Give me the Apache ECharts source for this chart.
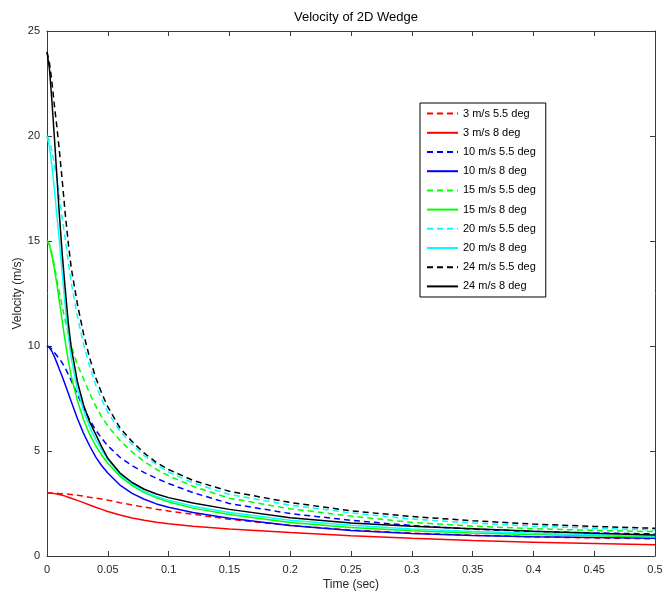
<!DOCTYPE html>
<html><head><meta charset="utf-8">
<script src="https://cdn.jsdelivr.net/npm/echarts@6/dist/echarts.min.js"></script>
<style>html,body{margin:0;padding:0;background:#fff}#c{width:664px;height:597px}</style>
</head><body><div id="c"></div>
<script>
// Shared time samples (sec)
const time = [0, 0.002, 0.004, 0.006, 0.008, 0.01, 0.0125, 0.015, 0.0175, 0.02, 0.025, 0.03, 0.035, 0.04, 0.045, 0.05, 0.06, 0.07, 0.08, 0.09, 0.1, 0.12, 0.15, 0.2, 0.25, 0.3, 0.35, 0.4, 0.45, 0.5];

// Velocity (m/s) per case
const v3_55  = [3.0, 3.0, 3.0, 2.995, 2.99, 2.98, 2.97, 2.96, 2.945, 2.93, 2.89, 2.85, 2.8, 2.76, 2.71, 2.66, 2.54, 2.43, 2.33, 2.23, 2.14, 1.99, 1.75, 1.45, 1.24, 1.09, 0.99, 0.91, 0.86, 0.82];
const v3_8   = [3.0, 2.995, 2.985, 2.97, 2.95, 2.93, 2.89, 2.85, 2.8, 2.75, 2.65, 2.54, 2.43, 2.32, 2.22, 2.12, 1.95, 1.81, 1.7, 1.61, 1.54, 1.42, 1.29, 1.12, 0.97, 0.84, 0.74, 0.66, 0.59, 0.53];
const v10_55 = [10.0, 9.95, 9.85, 9.7, 9.55, 9.4, 9.2, 8.95, 8.65, 8.35, 7.7, 7.05, 6.5, 6.0, 5.6, 5.25, 4.7, 4.3, 3.97, 3.7, 3.45, 3.02, 2.5, 2.02, 1.7, 1.45, 1.28, 1.17, 1.1, 1.05];
const v10_8  = [10.0, 9.93, 9.75, 9.5, 9.22, 8.92, 8.55, 8.15, 7.75, 7.35, 6.55, 5.85, 5.25, 4.72, 4.3, 3.95, 3.38, 2.98, 2.7, 2.48, 2.32, 2.07, 1.8, 1.45, 1.22, 1.07, 0.98, 0.92, 0.88, 0.84];
const v15_55 = [15.0, 14.85, 14.4, 13.85, 13.2, 12.6, 11.9, 11.2, 10.6, 10.0, 9.1, 8.45, 7.75, 7.15, 6.62, 6.2, 5.5, 4.95, 4.5, 4.12, 3.82, 3.32, 2.75, 2.25, 1.9, 1.6, 1.42, 1.3, 1.22, 1.16];
const v15_8  = [15.0, 14.8, 14.3, 13.7, 13.0, 12.2, 11.2, 10.2, 9.3, 8.55, 7.4, 6.5, 5.8, 5.25, 4.8, 4.42, 3.8, 3.35, 3.02, 2.77, 2.57, 2.28, 1.98, 1.6, 1.36, 1.2, 1.1, 1.02, 0.96, 0.9];
const v20_55 = [20.0, 19.8, 19.3, 18.7, 18.0, 17.2, 16.1, 15.1, 14.0, 13.0, 11.4, 10.1, 9.05, 8.15, 7.45, 6.85, 5.95, 5.3, 4.78, 4.35, 4.0, 3.48, 2.93, 2.42, 2.05, 1.76, 1.57, 1.42, 1.32, 1.24];
const v20_8  = [20.0, 19.5, 18.6, 17.5, 16.3, 15.1, 13.5, 11.9, 10.5, 9.4, 7.95, 6.95, 6.15, 5.55, 5.05, 4.6, 3.9, 3.42, 3.08, 2.83, 2.65, 2.37, 2.07, 1.7, 1.46, 1.29, 1.17, 1.08, 1.01, 0.95];
const v24_55 = [24.0, 23.5, 22.6, 21.5, 20.5, 19.4, 17.9, 16.3, 14.9, 13.7, 12.0, 10.6, 9.45, 8.5, 7.75, 7.1, 6.1, 5.45, 4.9, 4.45, 4.12, 3.6, 3.08, 2.55, 2.15, 1.88, 1.68, 1.52, 1.41, 1.32];
const v24_8  = [24.0, 23.2, 21.7, 20.0, 18.2, 16.4, 14.4, 12.7, 11.1, 9.9, 8.3, 7.2, 6.4, 5.8, 5.2, 4.65, 3.95, 3.5, 3.18, 2.95, 2.78, 2.52, 2.22, 1.82, 1.57, 1.42, 1.3, 1.18, 1.08, 1.0];

const names  = ['3 m/s 5.5 deg', '3 m/s 8 deg', '10 m/s 5.5 deg', '10 m/s 8 deg', '15 m/s 5.5 deg', '15 m/s 8 deg', '20 m/s 5.5 deg', '20 m/s 8 deg', '24 m/s 5.5 deg', '24 m/s 8 deg'];
const values = [v3_55, v3_8, v10_55, v10_8, v15_55, v15_8, v20_55, v20_8, v24_55, v24_8];
const colors = ['#ff0000', '#ff0000', '#0000ff', '#0000ff', '#00ff00', '#00ff00', '#00ffff', '#00ffff', '#000000', '#000000'];
const dashed = [true, false, true, false, true, false, true, false, true, false];

const xTicks = { min: 0, max: 0.5, interval: 0.05 };
const yTicks = { min: 0, max: 25, interval: 5 };

const FONT = '"Liberation Sans", Arial, sans-serif';
const AX = '#3a3a3a';

function axisCommon(showLabels) {
  return {
    axisLine: { show: true, onZero: false, lineStyle: { color: AX, width: 1 } },
    axisTick: { show: true, inside: true, length: 5, lineStyle: { color: AX } },
    axisLabel: { show: showLabels, color: '#262626', fontSize: 11, fontFamily: FONT },
    splitLine: { show: false }
  };
}

const chart = echarts.init(document.getElementById('c'), null, { renderer: 'canvas' });
chart.setOption({
  animation: false,
  backgroundColor: '#fff',
  title: {
    text: 'Velocity of 2D Wedge', left: 351, top: 6, textAlign: 'center',
    textStyle: { fontSize: 13, fontWeight: 'normal', color: '#000', fontFamily: FONT }
  },
  grid: { left: 47, right: 9, top: 31, bottom: 41, show: false, containLabel: false, outerBoundsMode: 'none' },
  legend: {
    data: names, orient: 'vertical', left: 420, top: 103,
    itemWidth: 31, itemHeight: 14, itemGap: 8,
    padding: [5, 10, 5, 6],
    borderColor: '#000', borderWidth: 1, backgroundColor: '#fff',
    itemStyle: { opacity: 0 },
    textStyle: { fontSize: 11, color: '#000', fontFamily: FONT }
  },
  xAxis: [
    Object.assign({ type: 'value', position: 'bottom', min: xTicks.min, max: xTicks.max, interval: xTicks.interval,
      name: 'Time (sec)', nameLocation: 'middle', nameGap: 23, nameMoveOverlap: false,
      nameTextStyle: { fontSize: 12, color: '#262626', fontFamily: FONT } }, axisCommon(true),
      { axisLabel: { show: true, color: '#262626', fontSize: 11, fontFamily: FONT, margin: 8 } }),
    Object.assign({ type: 'value', position: 'top', min: xTicks.min, max: xTicks.max, interval: xTicks.interval }, axisCommon(false))
  ],
  yAxis: [
    Object.assign({ type: 'value', position: 'left', min: yTicks.min, max: yTicks.max, interval: yTicks.interval,
      name: 'Velocity (m/s)', nameLocation: 'middle', nameGap: 23, nameMoveOverlap: false,
      nameTextStyle: { fontSize: 12, color: '#262626', fontFamily: FONT } }, axisCommon(true),
      { axisLabel: { show: true, color: '#262626', fontSize: 11, fontFamily: FONT, margin: 7 } }),
    Object.assign({ type: 'value', position: 'right', min: yTicks.min, max: yTicks.max, interval: yTicks.interval }, axisCommon(false))
  ],
  series: names.map((n, i) => ({
    name: n, type: 'line', xAxisIndex: 0, yAxisIndex: 0,
    data: time.map((t, k) => [t, values[i][k]]),
    symbol: 'none', showSymbol: false,
    smooth: false,
    color: colors[i],
    lineStyle: { color: colors[i], width: 1.5, type: dashed[i] ? [6, 4] : 'solid' },
    itemStyle: { color: colors[i] },
    emphasis: { disabled: true }
  }))
});
</script></body></html>
